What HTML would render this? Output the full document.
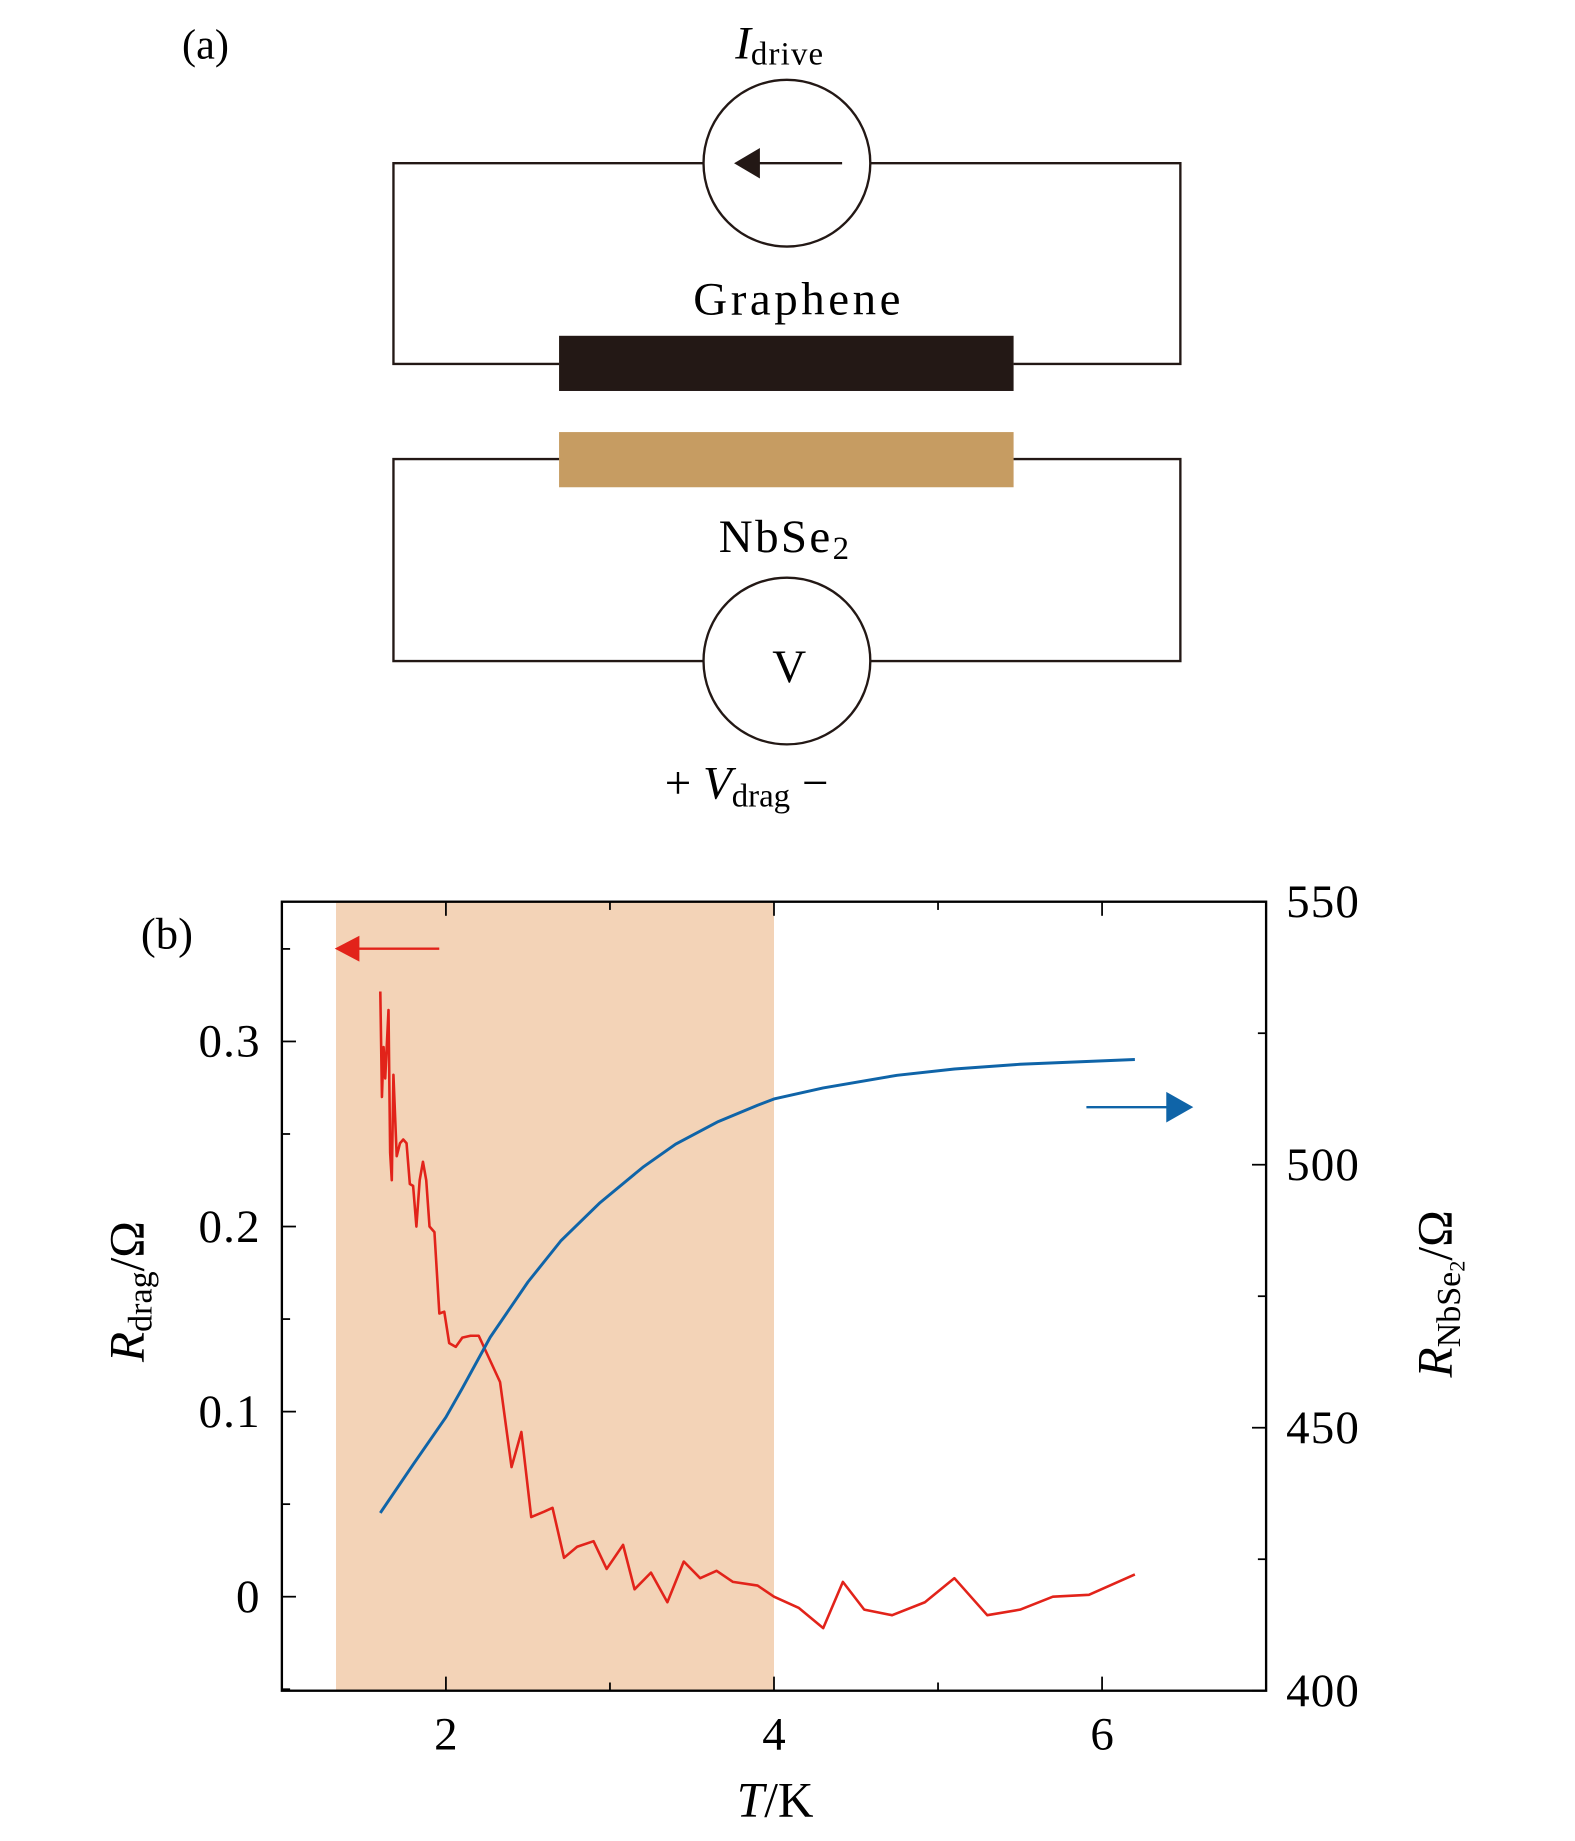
<!DOCTYPE html>
<html><head><meta charset="utf-8"><style>
html,body{margin:0;padding:0;background:#fff}
svg{display:block}
text{font-family:"Liberation Serif",serif;fill:#000}
</style></head><body>
<svg id="fig" width="1575" height="1841" viewBox="0 0 1341 1568" preserveAspectRatio="none" xmlns="http://www.w3.org/2000/svg">
<g stroke="#231815" stroke-width="2" fill="none">
  <text x="155" y="50" font-size="36" stroke="none">(a)</text>
  <polyline points="599,139 335,139 335,310 476,310"/>
  <polyline points="741,139 1005,139 1005,310 863,310"/>
  <circle cx="670" cy="139" r="71"/>
  <line x1="717" y1="139" x2="645" y2="139"/>
  <polygon points="625,139 647,126 647,152" fill="#231815" stroke="none"/>
  <rect x="476" y="286" width="387" height="47" fill="#231815" stroke="none"/>
  <rect x="476" y="368" width="387" height="47" fill="#c69c62" stroke="none"/>
  <polyline points="476,391 335,391 335,563 599,563"/>
  <polyline points="863,391 1005,391 1005,563 741,563"/>
  <circle cx="670" cy="563" r="71"/>
  <g stroke="none">
  <text x="626" y="50" font-size="40"><tspan font-style="italic">I</tspan><tspan font-size="28" dy="5" letter-spacing="1">drive</tspan></text>
  <text x="680" y="268" font-size="40" letter-spacing="3" text-anchor="middle">Graphene</text>
  <text x="612" y="470" font-size="40" letter-spacing="2">NbSe<tspan font-size="28" dy="6">2</tspan></text>
  <text x="672" y="581" font-size="40" text-anchor="middle">V</text>
  <text x="566" y="680" font-size="40">+ <tspan font-style="italic">V</tspan><tspan font-size="28" dy="7">drag</tspan><tspan dy="-7"> −</tspan></text>
  </g>
</g>
<g id="chart"></g>
</svg>
<script>
const tempK = [1.6,1.61,1.62,1.63,1.65,1.66,1.67,1.68,1.7,1.72,1.74,1.76,1.78,1.8,1.82,1.84,1.86,1.88,1.9,1.93,1.96,1.99,2.02,2.06,2.1,2.15,2.2,2.33,2.4,2.46,2.52,2.6,2.65,2.72,2.8,2.9,2.98,3.08,3.15,3.25,3.35,3.45,3.55,3.65,3.75,3.9,4.0,4.15,4.3,4.42,4.55,4.72,4.92,5.1,5.3,5.5,5.7,5.92,6.2];
const rDrag = [0.327,0.27,0.297,0.28,0.317,0.24,0.225,0.282,0.238,0.245,0.247,0.245,0.223,0.222,0.2,0.225,0.235,0.225,0.2,0.197,0.153,0.154,0.137,0.135,0.14,0.141,0.141,0.116,0.07,0.089,0.043,0.046,0.048,0.021,0.027,0.03,0.015,0.028,0.004,0.013,-0.003,0.019,0.01,0.014,0.008,0.006,0.0,-0.006,-0.017,0.008,-0.007,-0.01,-0.003,0.01,-0.01,-0.007,0.0,0.001,0.012];
const tempNb = [1.6,1.8,2.0,2.1,2.27,2.5,2.7,2.94,3.2,3.4,3.66,3.9,4.0,4.3,4.75,5.1,5.5,6.2];
const rNbSe2 = [433.8,443,452,457.5,467.2,477.7,485.5,492.8,499.5,503.9,508.2,511.3,512.5,514.6,517,518.2,519.1,520];
const xTicks = [2,4,6];
const yLeftTicks = [0,0.1,0.2,0.3];
const yLeftLabels = ["0","0.1","0.2","0.3"];
const yRightTicks = [400,450,500,550];
const shadeRange = [1.33,4.0];

const NS="http://www.w3.org/2000/svg";
const g=document.getElementById('chart');
const L=240,R=1078,T=768,B=1440;
const xs=v=>L+(v-1)/6*(R-L);
const yl=v=>B-(v+0.0508)/0.4263*(B-T);
const yr=v=>B-(v-400)/150*(B-T);
function mk(tag,attrs,parent){const e=document.createElementNS(NS,tag);for(const k in attrs)e.setAttribute(k,attrs[k]);(parent||g).appendChild(e);return e;}

const sh=mk('rect',{x:xs(shadeRange[0]),y:T,width:xs(shadeRange[1])-xs(shadeRange[0]),height:B-T,fill:'#f3d3b7'});



const red=mk('polyline',{points:tempK.map((t,i)=>xs(t)+','+yl(rDrag[i])).join(' '),fill:'none',stroke:'#e2231a','stroke-width':2.2,'stroke-linejoin':'round'});


const blue=mk('polyline',{points:tempNb.map((t,i)=>xs(t)+','+yr(rNbSe2[i])).join(' '),fill:'none',stroke:'#0f64a8','stroke-width':2.5,'stroke-linejoin':'round'});



const fr=mk('rect',{x:L,y:T,width:R-L,height:B-T,fill:'none',stroke:'#000','stroke-width':2});



for(let v=1;v<=7;v++){const maj=xTicks.includes(v);const len=maj?12:7;
 mk('line',{x1:xs(v),x2:xs(v),y1:B,y2:B-len,stroke:'#000','stroke-width':1.5});
 mk('line',{x1:xs(v),x2:xs(v),y1:T,y2:T+len,stroke:'#000','stroke-width':1.5});}
xTicks.forEach(v=>{const t=mk('text',{x:xs(v),y:B+50,'font-size':40,'text-anchor':'middle'});t.textContent=v;
 
 });
for(let i=-1;i<=7;i++){const v=i*0.05;if(yl(v)>B||yl(v)<T)continue;const maj=i%2===0;const len=maj?12:7;
 mk('line',{x1:L,x2:L+len,y1:yl(v),y2:yl(v),stroke:'#000','stroke-width':1.5});}
yLeftTicks.forEach((v,i)=>{const t=mk('text',{x:222,y:yl(v)+13,'font-size':40,'text-anchor':'end','letter-spacing':1});t.textContent=yLeftLabels[i];
 
 });
for(let v=400;v<=550;v+=25){const maj=v%50===0;const len=maj?12:7;
 mk('line',{x1:R,x2:R-len,y1:yr(v),y2:yr(v),stroke:'#000','stroke-width':1.5});}
yRightTicks.forEach(v=>{const t=mk('text',{x:1095,y:yr(v)+13,'font-size':40,'letter-spacing':1});t.textContent=v;
 
 });

mk('line',{x1:374,x2:300,y1:808,y2:808,stroke:'#e2231a','stroke-width':2});
const ra=mk('polygon',{points:'285,808 306,797 306,819',fill:'#e2231a'});


mk('line',{x1:925,x2:1000,y1:943,y2:943,stroke:'#0f64a8','stroke-width':2});
const ba=mk('polygon',{points:'1016,943 993,930 993,956',fill:'#0f64a8'});



const pb=mk('text',{x:120,y:808,'font-size':38});pb.textContent='(b)';


const xt=mk('text',{x:660,y:1547,'font-size':42,'text-anchor':'middle'});
xt.innerHTML='<tspan font-style="italic">T</tspan>/K';


const ylt=mk('text',{x:0,y:0,'font-size':42,'text-anchor':'middle',transform:'translate(122,1100) rotate(-90)'});
ylt.innerHTML='<tspan font-style="italic">R</tspan><tspan font-size="29" dy="7">drag</tspan><tspan dy="-7">/Ω</tspan>';


const yrt=mk('text',{x:0,y:0,'font-size':42,'text-anchor':'middle',transform:'translate(1236,1102) rotate(-90)'});
yrt.innerHTML='<tspan font-style="italic">R</tspan><tspan font-size="29" dy="7">NbSe</tspan><tspan font-size="19" dy="4">2</tspan><tspan dy="-11">/Ω</tspan>';


</script>
</body></html>
